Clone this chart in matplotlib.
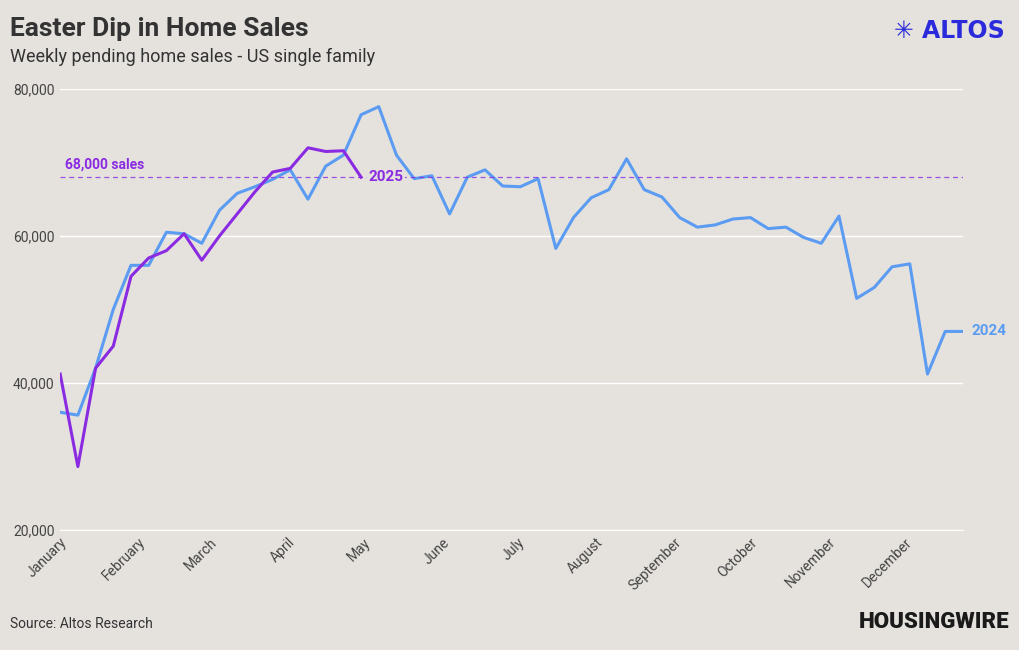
import matplotlib
matplotlib.use("Agg")
import matplotlib.pyplot as plt
import numpy as np

plt.rcParams['font.family'] = ['Roboto', 'DejaVu Sans']

sales_2024 = [36000, 35600, 42000, 50000, 56000, 56000, 60500, 60300, 59000, 63500,
              65800, 66700, 67700, 69000, 65000, 69500, 71000, 76500, 77600, 71000,
              67800, 68200, 63000, 68000, 69000, 66800, 66700, 67800, 58300, 62500,
              65200, 66300, 70500, 66300, 65300, 62500, 61200, 61500, 62300, 62500,
              61000, 61200, 59800, 59000, 62700, 51500, 53000, 55800, 56200, 41200,
              47000, 47000]
sales_2025 = [41200, 28600, 42000, 45000, 54500, 57000, 58000, 60300, 56700, 60000,
              63000, 66000, 68700, 69200, 72000, 71500, 71600, 68000]
months = ['January', 'February', 'March', 'April', 'May', 'June', 'July',
          'August', 'September', 'October', 'November', 'December']
month_start_day = [0, 31, 59, 90, 120, 151, 181, 212, 243, 273, 304, 334]
ref_level = 68000

bg = '#e5e2de'
c24 = '#5b9cf2'
c25 = '#8a2be2'

fig = plt.figure(figsize=(10.2, 6.5), dpi=100, facecolor=bg)
ax = fig.add_axes([0.059, 0.185, 0.885, 0.678], facecolor=bg)

ax.plot(np.arange(len(sales_2024)), sales_2024, color=c24, lw=2.2)
ax.plot(np.arange(len(sales_2025)), sales_2025, color=c25, lw=2.2)
ax.axhline(ref_level, color=c25, lw=0.9, ls=(0, (4, 3)), alpha=0.8)
ax.text(0.3, ref_level + 800, '68,000 sales', color=c25, fontsize=10, fontweight='bold', va='bottom')
ax.text(len(sales_2025) - 1 + 0.4, sales_2025[-1], '2025', color=c25, fontsize=11,
        fontweight='bold', va='center', bbox=dict(facecolor=bg, edgecolor='none', pad=1))
ax.text(len(sales_2024) - 1 + 0.5, sales_2024[-1], '2024', color=c24, fontsize=11,
        fontweight='bold', va='center')

ax.set_xlim(0, len(sales_2024) - 1)
ax.set_ylim(20000, 80000)
ax.set_yticks([20000, 40000, 60000, 80000])
ax.set_yticklabels(['20,000', '40,000', '60,000', '80,000'])
ax.set_xticks([d / 7 for d in month_start_day])
ax.set_xticklabels(months, rotation=45, ha='right', rotation_mode='anchor')
ax.tick_params(axis='both', length=0, labelsize=10, colors='#444444', pad=4)
ax.grid(axis='y', color='white', lw=1)
ax.set_axisbelow(True)
for s in ['top', 'right', 'left']:
    ax.spines[s].set_visible(False)
ax.spines['bottom'].set_color('white')

fig.text(0.01, 0.955, 'Easter Dip in Home Sales', fontsize=19, fontweight='bold', color='#333333', va='center')
fig.text(0.01, 0.913, 'Weekly pending home sales - US single family', fontsize=13, color='#333333', va='center')
fig.text(0.01, 0.04, 'Source: Altos Research', fontsize=10, color='#333333', va='center')
fig.text(0.985, 0.953, '✳ ALTOS', fontsize=17, fontweight='bold', color='#2b2bdc', ha='right', va='center',
         family=['DejaVu Sans'])
fig.text(0.99, 0.043, 'HOUSINGWIRE', fontsize=16, fontweight='black', color='#1a1a1a', ha='right', va='center')

fig.savefig('out.png', dpi=100, facecolor=bg)
